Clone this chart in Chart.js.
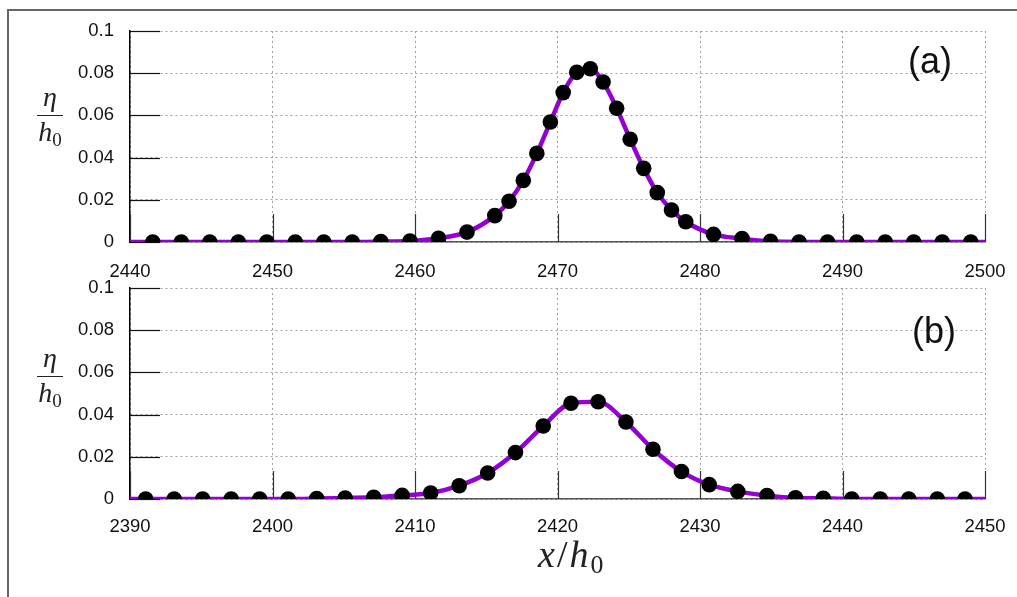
<!DOCTYPE html>
<html>
<head>
<meta charset="utf-8">
<script src="https://cdn.jsdelivr.net/npm/chart.js@4"></script>
<style>
body{margin:0;background:#fff;}
#wrap{position:relative;width:1017px;height:597px;overflow:hidden;font-family:"Liberation Sans",Arial,sans-serif;}
#frame{position:absolute;left:7px;top:9px;width:1020px;height:600px;border-left:2px solid #666;border-top:2px solid #666;}
.pane{position:absolute;left:0;width:1017px;height:300px;}
.frac{position:absolute;width:26px;font-family:"Liberation Serif","DejaVu Serif",serif;font-size:28px;text-align:center;color:#222;}
.frac .num{font-style:italic;line-height:26px;height:26px;}
.frac .bar{border-top:1.5px solid #222;margin:5px 0 0 0;}
.frac .den{font-style:italic;line-height:26px;margin-top:3px;}
.frac sub,.xt sub{font-style:normal;font-size:0.68em;vertical-align:-0.25em;}
.xt{position:absolute;font-family:"Liberation Serif","DejaVu Serif",serif;font-size:38px;color:#222;letter-spacing:2px;}
</style>
</head>
<body>
<div id="wrap">
  <div id="frame"></div>
  <div class="pane" style="top:0"><canvas id="c1" width="1017" height="300"></canvas></div>
  <div class="pane" style="top:257px"><canvas id="c2" width="1017" height="300"></canvas></div>
  <div class="frac" style="left:37px;top:84px"><div class="num">η</div><div class="bar"></div><div class="den">h<sub>0</sub></div></div>
  <div class="frac" style="left:37px;top:345px"><div class="num">η</div><div class="bar"></div><div class="den">h<sub>0</sub></div></div>
  <div class="xt" style="left:538px;top:532px"><i>x</i>/<i>h</i><sub>0</sub></div>
</div>
<script>
// panel (a)
const topRange = [2440, 2500]
const topX = [2441.6, 2443.6, 2445.6, 2447.6, 2449.6, 2451.6, 2453.6, 2455.6, 2457.6, 2459.65,
  2461.65, 2463.65, 2465.6, 2466.6, 2467.6, 2468.55, 2469.5, 2470.4, 2471.35, 2472.3,
  2473.2, 2474.15, 2475.1, 2476.05, 2477.0, 2478.0, 2479.0, 2480.95, 2482.95, 2484.95,
  2486.95, 2488.95, 2491.0, 2493.0, 2495.0, 2497.0, 2499.0]
const topY = [0, 0, 0, 0, 0, 0, 0, 0, 0.0002, 0.0005,
  0.0018, 0.0047, 0.0125, 0.0193, 0.0292, 0.042, 0.0569, 0.0708, 0.0804, 0.0821,
  0.0758, 0.0634, 0.0487, 0.0349, 0.0234, 0.0152, 0.0096, 0.0036, 0.0016, 0.0003,
  0, 0, 0, 0, 0, 0, 0]

// panel (b)
const bottomRange = [2390, 2450]
const bottomX = [2391.1, 2393.1, 2395.1, 2397.1, 2399.1, 2401.1, 2403.1, 2405.1, 2407.1, 2409.1,
  2411.1, 2413.1, 2415.1, 2417.05, 2419.0, 2420.95, 2422.85, 2424.8, 2426.7, 2428.7,
  2430.65, 2432.65, 2434.7, 2436.7, 2438.65, 2440.65, 2442.65, 2444.65, 2446.65, 2448.6]
const bottomY = [0, 0, 0, 0, 0, 0, 0.0002, 0.0005, 0.0008, 0.0017,
  0.0028, 0.0063, 0.0123, 0.022, 0.0346, 0.0454, 0.0461, 0.0365, 0.0236, 0.013,
  0.0068, 0.0036, 0.0016, 0.0006, 0.0003, 0, 0, 0, 0, 0]

const yLabels = ["0", "0.02", "0.04", "0.06", "0.08", "0.1"]

const purple = "#9400d3"
const gridCol = "#a0a0a0"

// inner tick marks + panel letter
const panelDeco = {
  id: "panelDeco",
  beforeDatasetsDraw(chart, args, opts){
    const {ctx, chartArea:a, scales:{x, y}} = chart
    ctx.save()
    ctx.lineWidth = 1.2
    ctx.strokeStyle = "#111"
    y.ticks.forEach(t => {
      const py = Math.round(y.getPixelForValue(t.value)) + 0.5
      const len = t.label ? 30 : 14
      ctx.beginPath(); ctx.moveTo(a.left, py); ctx.lineTo(a.left + len, py); ctx.stroke()
    })
    ctx.strokeStyle = "#333"
    x.ticks.forEach(t => {
      const px = Math.round(x.getPixelForValue(t.value)) + 0.5
      ctx.beginPath(); ctx.moveTo(px, a.bottom); ctx.lineTo(px, a.bottom - 28); ctx.stroke()
    })
    ctx.restore()
  },
  afterDraw(chart, args, opts){
    const ctx = chart.ctx
    ctx.save()
    ctx.font = "36px 'Liberation Sans', Arial, sans-serif"
    ctx.fillStyle = "#111"
    ctx.textAlign = "center"
    ctx.textBaseline = "middle"
    ctx.fillText(opts.text, opts.x, opts.y)
    ctx.restore()
  }
}

function makePanel(id, xs, ys, range, label, lx, ly, labelPad){
  const dots = xs.map((v, i) => ({x: v, y: ys[i]}))
  const curve = [{x: range[0], y: 0}].concat(dots, [{x: range[1], y: 0}])
  const tickFont = {family: "'Liberation Sans', Arial, sans-serif", size: 18.5}
  new Chart(document.getElementById(id), {
    type: "scatter",
    data: {
      datasets: [{
        data: dots,
        showLine: false,
        pointRadius: 7.8,
        pointBackgroundColor: "#000",
        pointBorderColor: "#000",
        pointBorderWidth: 0
      },{
        data: curve,
        showLine: true,
        pointRadius: 0,
        borderColor: purple,
        borderWidth: 4.5,
        tension: 0.4,
        cubicInterpolationMode: "monotone"
      }]
    },
    options: {
      responsive: false,
      animation: false,
      layout: {padding: {left: 0, right: 32, top: 31, bottom: 10}},
      plugins: {
        legend: {display: false},
        tooltip: {enabled: false},
        panelDeco: {text: label, x: lx, y: ly}
      },
      scales: {
        x: {
          type: "linear",
          min: range[0], max: range[1],
          afterFit: s => { s.height = 48; s.paddingLeft = 0; s.paddingRight = 0 },
          ticks: {stepSize: 10, color: "#111", font: tickFont, padding: labelPad, maxRotation: 0,
            callback: v => String(v)},
          grid: {color: gridCol, lineWidth: 1, drawTicks: false},
          border: {display: true, color: "#555", width: 1.5, dash: [2, 3]}
        },
        y: {
          min: 0, max: 0.1,
          afterFit: s => { s.width = 130 },
          ticks: {stepSize: 0.01, color: "#111", font: tickFont, padding: 16,
            callback: v => { const k = Math.round(v * 100); return k % 2 === 0 ? yLabels[k / 2] : "" }},
          grid: {color: gridCol, lineWidth: 1, drawTicks: false},
          border: {display: true, color: "#000", width: 1.5, dash: [2, 3]}
        }
      }
    },
    plugins: [panelDeco]
  })
}

makePanel("c1", topX, topY, topRange, "(a)", 930, 63, 19)
makePanel("c2", bottomX, bottomY, bottomRange, "(b)", 934, 76, 17)
</script>
</body>
</html>
